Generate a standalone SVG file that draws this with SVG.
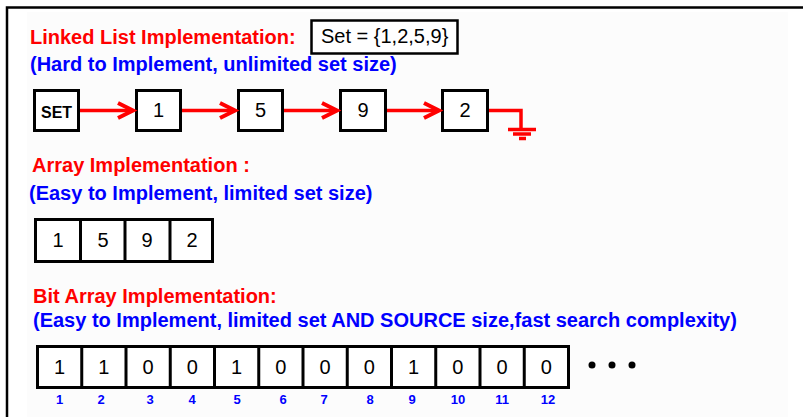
<svg xmlns="http://www.w3.org/2000/svg" width="803" height="417" viewBox="0 0 803 417">
  <style>
    .head { font-family: "Liberation Sans", Arial, sans-serif; font-weight: bold; font-size: 20px; fill: #ff0000; }
    .note { font-family: "Liberation Sans", Arial, sans-serif; font-weight: bold; font-size: 20px; fill: #0000ff; }
    .val  { font-family: "Liberation Sans", Arial, sans-serif; font-size: 20px; fill: #000; text-anchor: middle; }
    .idx  { font-family: "Liberation Sans", Arial, sans-serif; font-weight: bold; font-size: 13px; fill: #0000ff; text-anchor: middle; }
    .box  { fill: #fff; stroke: #000; stroke-width: 3; }
    .cell { stroke: #000; stroke-width: 3; }
    .link { fill: none; stroke: #ff0000; stroke-width: 3.5; }
    .head-arrow { fill: none; stroke: #ff0000; stroke-width: 4; stroke-linejoin: miter; }
  </style>

  <!-- page -->
  <rect x="0" y="0" width="803" height="417" fill="#ffffff"/>
  <rect x="27" y="12" width="761" height="405" fill="#fcfcfc"/>
  <path d="M7,417 V7.5 H803" fill="none" stroke="#000" stroke-width="2.5"/>

  <!-- linked list section -->
  <g id="linked-list-title">
    <text class="head" x="30" y="44">Linked List Implementation:</text>
    <text class="note" x="30" y="71">(Hard to Implement, unlimited set size)</text>
  </g>
  <g id="set-definition">
    <rect x="311.5" y="20.5" width="146" height="33" fill="#fff" stroke="#000" stroke-width="2.5"/>
    <text x="321" y="43" font-family="'Liberation Sans', Arial, sans-serif" font-size="20" fill="#000">Set = {1,2,5,9}</text>
  </g>

  <g id="node-set">
    <rect class="box" x="34.5" y="90.5" width="44" height="40"/>
    <text x="56.5" y="117.5" font-family="'Liberation Sans', Arial, sans-serif" font-weight="bold" font-size="17" text-anchor="middle" textLength="31" lengthAdjust="spacingAndGlyphs">SET</text>
  </g>
  <g id="node-1">
    <rect class="box" x="136.5" y="90.5" width="44" height="40"/>
    <text class="val" x="158.5" y="117">1</text>
  </g>
  <g id="node-5">
    <rect class="box" x="238.5" y="90.5" width="44" height="40"/>
    <text class="val" x="260.5" y="117">5</text>
  </g>
  <g id="node-9">
    <rect class="box" x="340.5" y="90.5" width="45" height="40"/>
    <text class="val" x="363" y="117">9</text>
  </g>
  <g id="node-2">
    <rect class="box" x="442.5" y="90.5" width="45" height="40"/>
    <text class="val" x="465" y="117">2</text>
  </g>

  <g id="connectors">
    <path class="link" d="M80,110.5 H131"/>
    <path class="head-arrow" d="M118,103 L133,110.5 L118,118"/>
    <path class="link" d="M182,110.5 H233"/>
    <path class="head-arrow" d="M220,103 L235,110.5 L220,118"/>
    <path class="link" d="M284,110.5 H335"/>
    <path class="head-arrow" d="M322,103 L337,110.5 L322,118"/>
    <path class="link" d="M387,110.5 H437"/>
    <path class="head-arrow" d="M424,103 L439,110.5 L424,118"/>
    <!-- null terminator (ground symbol) -->
    <path class="link" stroke-width="3" d="M489,110.5 H521 V129"/>
    <path class="link" stroke-width="3" d="M508,129.5 H536 M513,134 H531 M519,138.5 H526"/>
  </g>

  <!-- array section -->
  <g id="array-title">
    <text class="head" x="32" y="172">Array Implementation :</text>
    <text class="note" x="29" y="200">(Easy to Implement, limited set size)</text>
  </g>
  <g id="array">
    <rect class="box" x="35.5" y="219.5" width="177" height="42"/>
    <path class="cell" d="M80.5,219.5 V261.5 M125,219.5 V261.5 M170,219.5 V261.5"/>
    <text class="val" x="58" y="247">1</text>
    <text class="val" x="103" y="247">5</text>
    <text class="val" x="147" y="247">9</text>
    <text class="val" x="192" y="247">2</text>
  </g>

  <!-- bit array section -->
  <g id="bit-array-title">
    <text class="head" x="33" y="303">Bit Array Implementation:</text>
    <text class="note" x="33" y="327">(Easy to Implement, limited set AND SOURCE size,fast search complexity)</text>
  </g>
  <g id="bit-array">
    <rect class="box" x="37.5" y="346.5" width="531" height="41"/>
    <path class="cell" d="M81.75,346.5 V387.5 M126,346.5 V387.5 M170.25,346.5 V387.5 M214.5,346.5 V387.5 M258.75,346.5 V387.5 M303,346.5 V387.5 M347.25,346.5 V387.5 M391.5,346.5 V387.5 M435.75,346.5 V387.5 M480,346.5 V387.5 M524.25,346.5 V387.5"/>
    <text class="val" x="59.6" y="374">1</text>
    <text class="val" x="103.9" y="374">1</text>
    <text class="val" x="148.1" y="374">0</text>
    <text class="val" x="192.4" y="374">0</text>
    <text class="val" x="236.6" y="374">1</text>
    <text class="val" x="280.9" y="374">0</text>
    <text class="val" x="325.1" y="374">0</text>
    <text class="val" x="369.4" y="374">0</text>
    <text class="val" x="413.6" y="374">1</text>
    <text class="val" x="457.9" y="374">0</text>
    <text class="val" x="502.1" y="374">0</text>
    <text class="val" x="546.4" y="374">0</text>
  </g>
  <g id="bit-index">
    <text class="idx" x="59.6" y="404">1</text>
    <text class="idx" x="101" y="404">2</text>
    <text class="idx" x="150" y="404">3</text>
    <text class="idx" x="192" y="404">4</text>
    <text class="idx" x="237" y="404">5</text>
    <text class="idx" x="283" y="404">6</text>
    <text class="idx" x="324" y="404">7</text>
    <text class="idx" x="370" y="404">8</text>
    <text class="idx" x="412" y="404">9</text>
    <text class="idx" x="457.9" y="404">10</text>
    <text class="idx" x="502.1" y="404">11</text>
    <text class="idx" x="548" y="404">12</text>
  </g>
  <g id="continuation">
    <circle cx="592" cy="365" r="3.5" fill="#000"/>
    <circle cx="612" cy="365" r="3.5" fill="#000"/>
    <circle cx="632" cy="365" r="3.5" fill="#000"/>
  </g>
</svg>
